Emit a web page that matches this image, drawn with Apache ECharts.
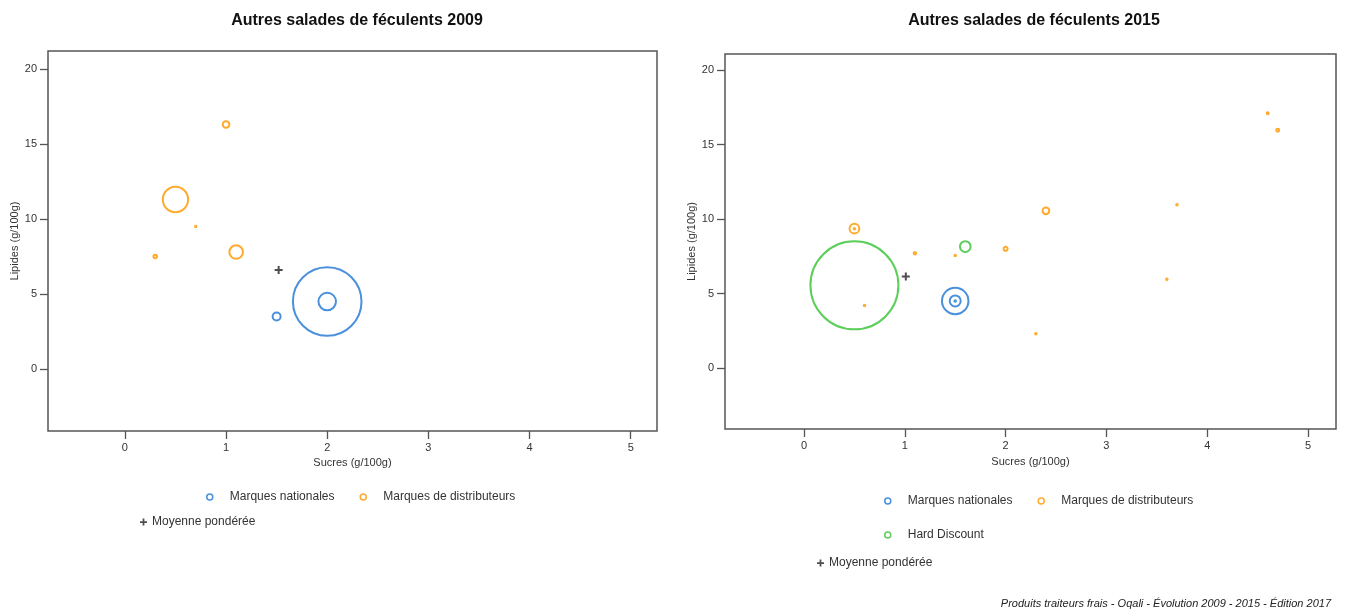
<!DOCTYPE html>
<html>
<head>
<meta charset="utf-8">
<script src="https://cdn.jsdelivr.net/npm/echarts@6/dist/echarts.min.js"></script>
<style>
html,body{margin:0;padding:0;background:#fff;}
#chart{width:1346px;height:610px;}
</style>
</head>
<body>
<div id="chart"></div>
<script>
// ---- Data ----
// x = Sucres (g/100g), y = Lipides (g/100g), pdm = estimated market share weight (bubble area)
const titles = ['Autres salades de féculents 2009', 'Autres salades de féculents 2015'];
const xTicks = [0, 1, 2, 3, 4, 5];
const yTicks = [0, 5, 10, 15, 20];
const xName = 'Sucres (g/100g)';
const yName = 'Lipides (g/100g)';
const seriesNames = ['Marques nationales', 'Marques de distributeurs', 'Hard Discount', 'Moyenne pondérée'];

// 2009
const mn2009_x = [1.5, 2.0, 2.0];
const mn2009_y = [3.5, 4.5, 4.5];
const mn2009_pdm = [1.0, 73.5, 4.8];
const mdd2009_x = [1.0, 0.5, 0.7, 1.1, 0.3];
const mdd2009_y = [16.3, 11.3, 9.5, 7.8, 7.5];
const mdd2009_pdm = [0.7, 10.0, 0.035, 2.9, 0.19];
const moy2009_x = [1.52];
const moy2009_y = [6.6];

// 2015
const mn2015_x = [1.5, 1.5, 1.5];
const mn2015_y = [4.5, 4.5, 4.5];
const mn2015_pdm = [7.3, 1.26, 0.025];
const mdd2015_x = [0.5, 0.5, 1.1, 1.5, 2.0, 2.4, 0.6, 2.3, 4.6, 4.7, 3.7, 3.6];
const mdd2015_y = [9.35, 9.35, 7.7, 7.55, 8.0, 10.55, 4.2, 2.3, 17.1, 15.95, 10.95, 5.95];
const mdd2015_pdm = [0.98, 0.025, 0.065, 0.025, 0.17, 0.47, 0.025, 0.025, 0.04, 0.09, 0.025, 0.025];
const hd2015_x = [0.5, 1.6];
const hd2015_y = [5.55, 8.15];
const hd2015_pdm = [80.6, 1.19];
const moy2015_x = [1.01];
const moy2015_y = [6.15];

const footer = 'Produits traiteurs frais - Oqali - Évolution 2009 - 2015 - Édition 2017';

// ---- Styling ----
const BLUE = '#4a90dc', ORANGE = '#ffaa2c', GREEN = '#5cce5a', BLACK = '#222';
const FONT = "'Liberation Sans', Arial, sans-serif";
const PLUS = 'path://M3,0h2v3h3v2h-3v3h-2v-3h-3v-2h3z';
const K = [8, 9.8]; // bubble diameter scale per chart

function zip(xs, ys, ws) { return xs.map((x, i) => ws ? [x, ys[i], ws[i]] : [x, ys[i]]); }

function bubble(name, color, data, idx) {
  return {
    name: name, type: 'scatter', xAxisIndex: idx, yAxisIndex: idx,
    data: data,
    symbol: 'circle',
    symbolSize: v => K[idx] * Math.sqrt(v[2]),
    itemStyle: { color: 'rgba(0,0,0,0)', borderColor: color, borderWidth: 2, opacity: 1 },
    emphasis: { disabled: true },
    silent: true, z: 3
  };
}
function meanSeries(data, idx) {
  return {
    name: seriesNames[3], type: 'scatter', xAxisIndex: idx, yAxisIndex: idx,
    data: data, symbol: PLUS, symbolSize: 8,
    itemStyle: { color: BLACK }, silent: true, z: 4
  };
}

function xAxis(idx, min, max, gap) {
  return {
    gridIndex: idx, type: 'value', min: min, max: max, position: 'bottom',
    name: xName, nameLocation: 'middle', nameGap: gap,
    nameTextStyle: { fontSize: 11, color: '#333', fontFamily: FONT },
    axisLine: { show: false, onZero: false },
    axisTick: { show: true, length: 8, customValues: xTicks, lineStyle: { color: '#555', width: 1.3 } },
    axisLabel: { customValues: xTicks, fontSize: 11, color: '#333', margin: 11, fontFamily: FONT },
    splitLine: { show: false }
  };
}
function yAxis(idx, min, max) {
  return {
    gridIndex: idx, type: 'value', min: min, max: max, position: 'left',
    name: yName, nameLocation: 'middle', nameGap: 22,
    nameTextStyle: { fontSize: 11, color: '#333', fontFamily: FONT },
    axisLine: { show: false, onZero: false },
    axisTick: { show: true, length: 8, customValues: yTicks, lineStyle: { color: '#555', width: 1.3 } },
    axisLabel: { customValues: yTicks, fontSize: 11, color: '#333', margin: 11, fontFamily: FONT },
    splitLine: { show: false }
  };
}

const legendText = { fontSize: 12, color: '#333', fontFamily: FONT };
function circleLegend(left, top, names, gap) {
  return {
    left: left, top: top, orient: 'horizontal', itemGap: gap,
    itemWidth: 30, itemHeight: 6, icon: 'circle', symbolKeepAspect: true,
    itemStyle: { borderWidth: 1.5 },
    textStyle: legendText, selectedMode: false,
    data: names
  };
}
function plusLegend(left, top) {
  return {
    left: left, top: top, itemWidth: 7, itemHeight: 7, icon: PLUS,
    textStyle: legendText, selectedMode: false,
    data: [seriesNames[3]]
  };
}

const option = {
  backgroundColor: '#fff',
  animation: false,
  title: [
    { text: titles[0], left: 352, top: 8, textAlign: 'center',
      textStyle: { fontSize: 16, fontWeight: 'bold', color: '#111', fontFamily: FONT } },
    { text: titles[1], left: 1029, top: 8, textAlign: 'center',
      textStyle: { fontSize: 16, fontWeight: 'bold', color: '#111', fontFamily: FONT } },
    { text: footer, right: 10, top: 593,
      textStyle: { fontSize: 11, fontStyle: 'italic', fontWeight: 'normal', color: '#222', fontFamily: FONT } }
  ],
  grid: [
    { left: 48, top: 51, width: 609, height: 380, show: true, borderColor: '#555', borderWidth: 1.5, backgroundColor: 'transparent' },
    { left: 725, top: 54, width: 611, height: 375, show: true, borderColor: '#555', borderWidth: 1.5, backgroundColor: 'transparent' }
  ],
  xAxis: [xAxis(0, -0.76, 5.26, 25), xAxis(1, -0.784, 5.278, 27)],
  yAxis: [yAxis(0, -4.13, 21.2), yAxis(1, -4.09, 21.07)],
  legend: [
    circleLegend(201, 486, [seriesNames[0], seriesNames[1]], 25),
    plusLegend(135, 511),
    circleLegend(879, 490, [seriesNames[0], seriesNames[1]], 25),
    circleLegend(879, 524, [seriesNames[2]], 25),
    plusLegend(812, 552)
  ],
  series: [
    bubble(seriesNames[0], BLUE, zip(mn2009_x, mn2009_y, mn2009_pdm), 0),
    bubble(seriesNames[1], ORANGE, zip(mdd2009_x, mdd2009_y, mdd2009_pdm), 0),
    meanSeries(zip(moy2009_x, moy2009_y), 0),
    bubble(seriesNames[0], BLUE, zip(mn2015_x, mn2015_y, mn2015_pdm), 1),
    bubble(seriesNames[1], ORANGE, zip(mdd2015_x, mdd2015_y, mdd2015_pdm), 1),
    bubble(seriesNames[2], GREEN, zip(hd2015_x, hd2015_y, hd2015_pdm), 1),
    meanSeries(zip(moy2015_x, moy2015_y), 1)
  ]
};

const chart = echarts.init(document.getElementById('chart'), null, { renderer: 'canvas' });
chart.setOption(option);
</script>
</body>
</html>
